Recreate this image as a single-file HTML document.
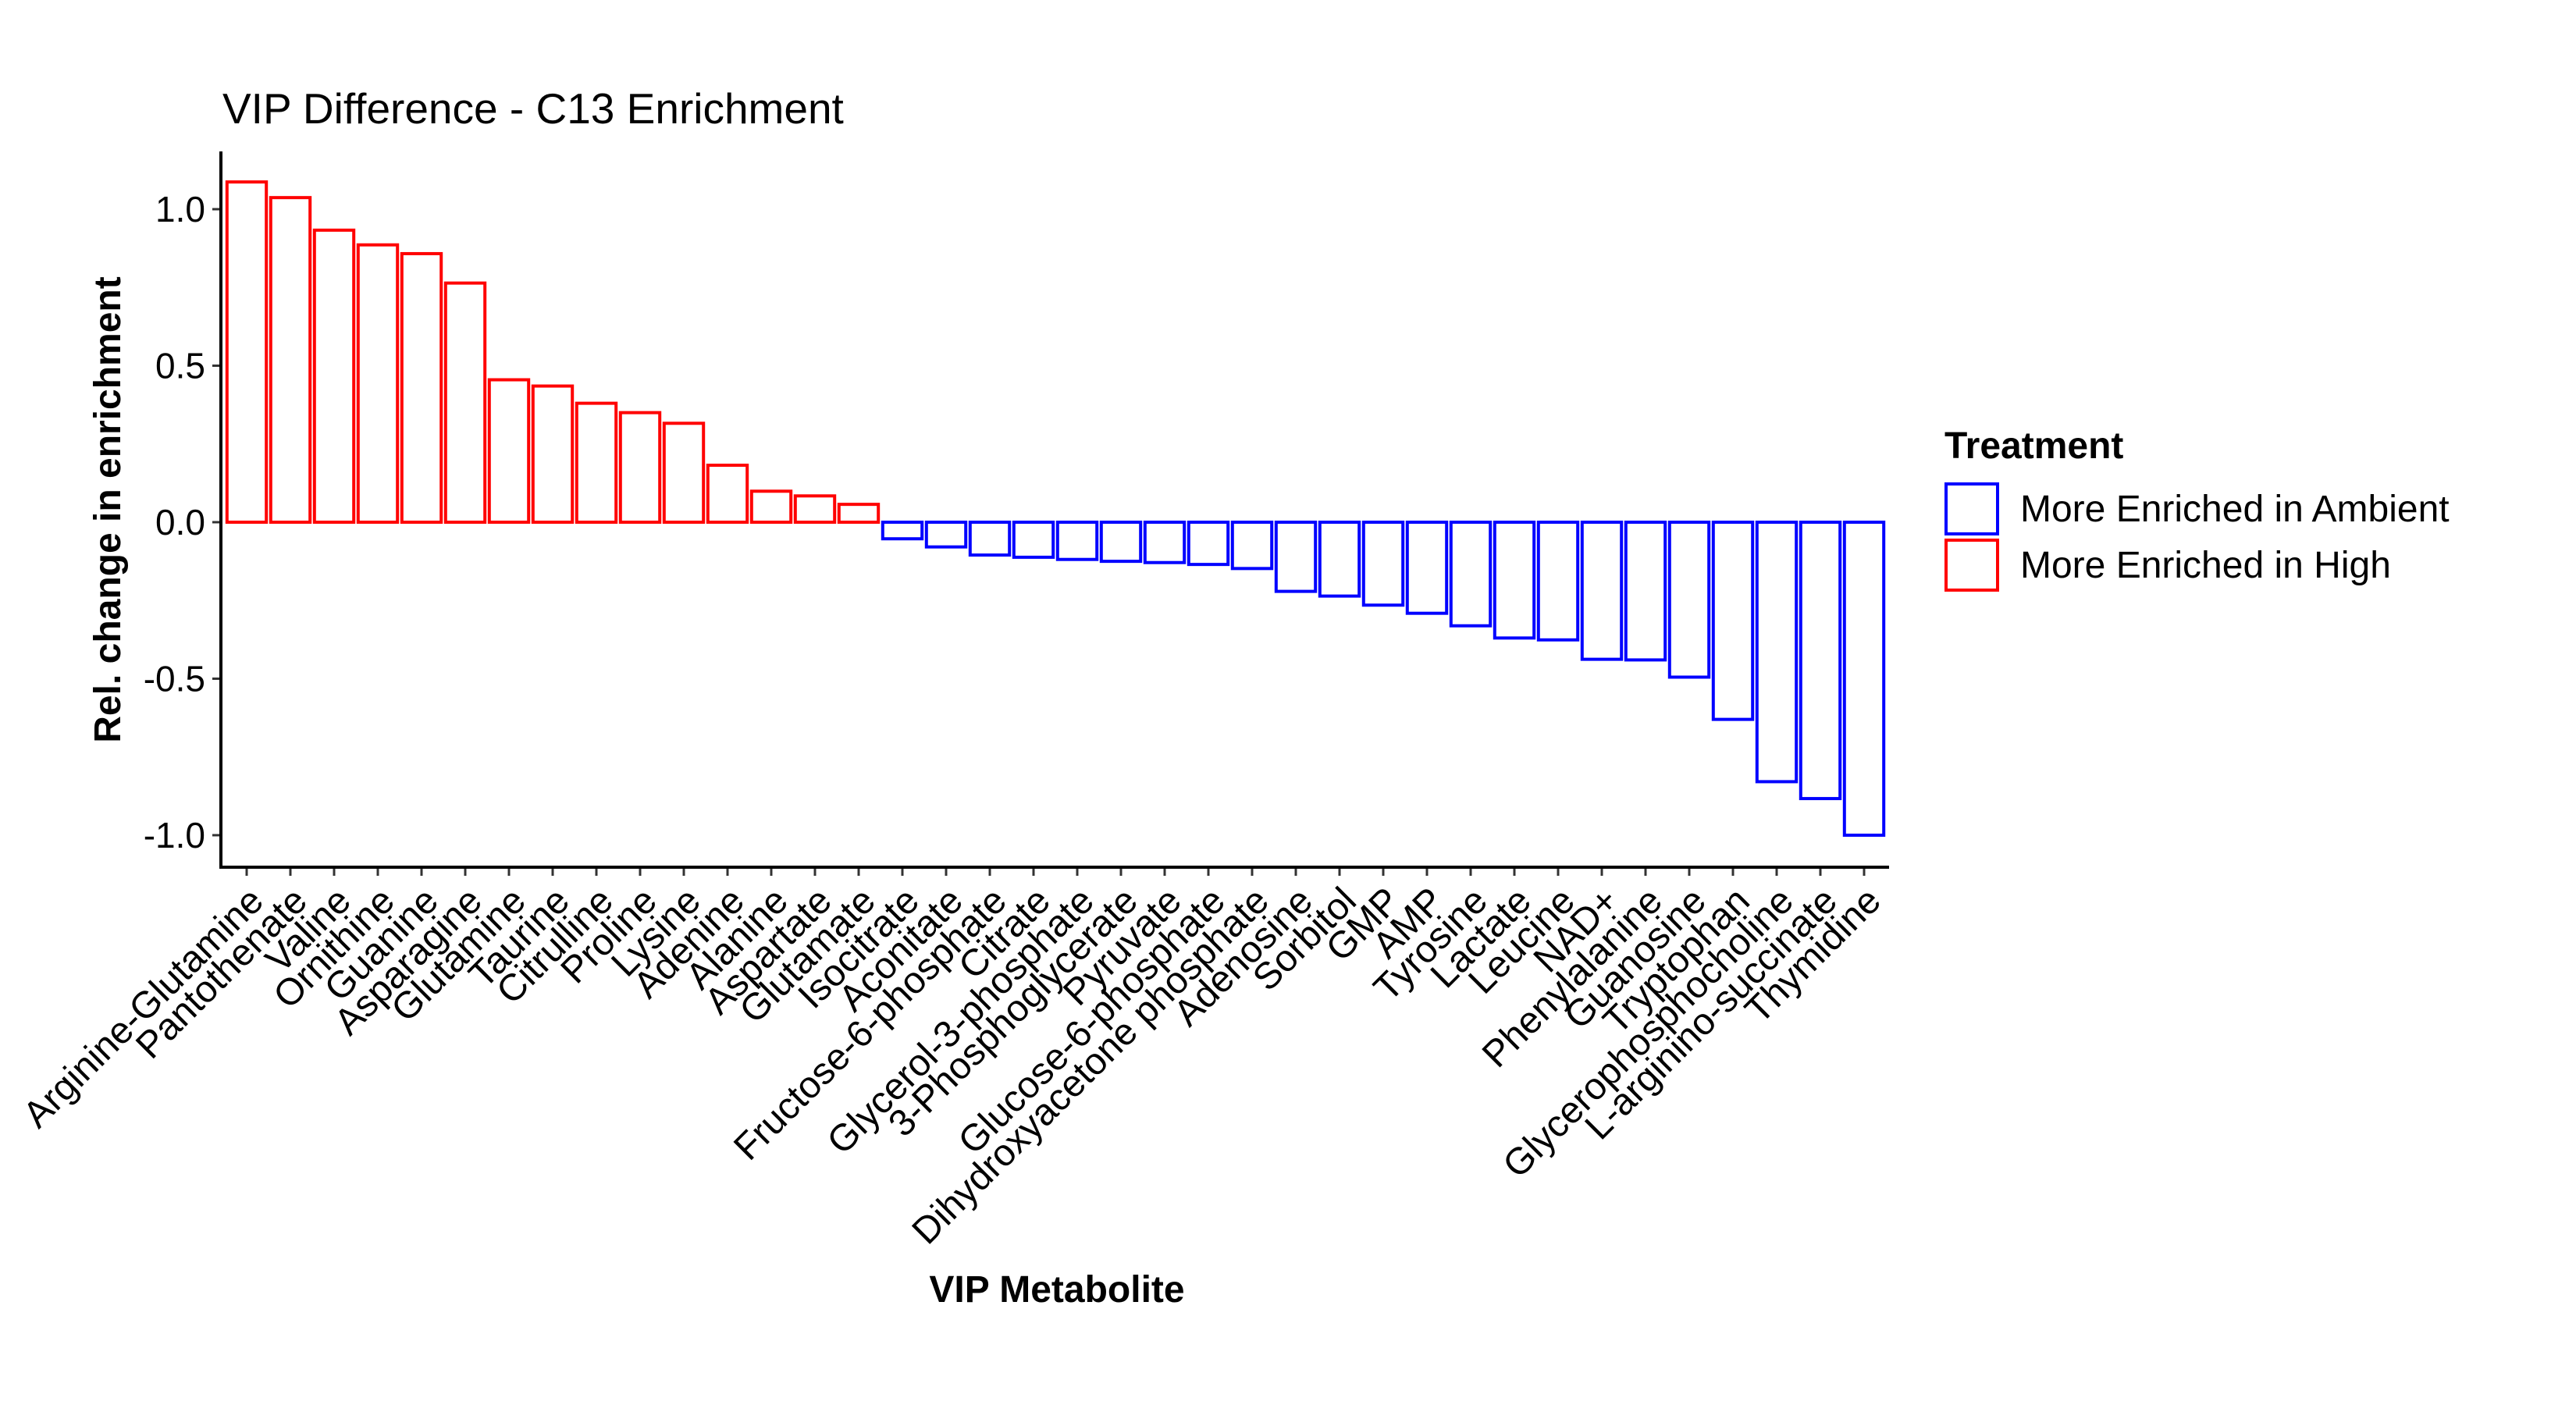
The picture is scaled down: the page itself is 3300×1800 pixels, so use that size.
<!DOCTYPE html>
<html><head><meta charset="utf-8"><style>
html,body{margin:0;padding:0;background:#fff;}
svg{display:block;font-family:"Liberation Sans",Arial,sans-serif;}
</style></head><body>
<svg id="chart" width="3300" height="1800" viewBox="0 0 3300 1800">
<text x="285" y="158" font-size="55" fill="#000">VIP Difference - C13 Enrichment</text>
<g id="plot"></g>
<text transform="translate(154,653) rotate(-90)" text-anchor="middle" font-size="48" font-weight="bold">Rel. change in enrichment</text>
<text x="1354" y="1668" text-anchor="middle" font-size="48" font-weight="bold">VIP Metabolite</text>
<g>
<text x="2491" y="587" font-size="48" font-weight="bold">Treatment</text>
<rect x="2493" y="620" width="66" height="64" fill="none" stroke="#0000ff" stroke-width="4"/>
<text x="2588" y="668" font-size="48">More Enriched in Ambient</text>
<rect x="2493" y="692" width="66" height="64" fill="none" stroke="#ff0000" stroke-width="4"/>
<text x="2588" y="740" font-size="48">More Enriched in High</text>
</g>
</svg>
<script>
const categories = ["Arginine-Glutamine","Pantothenate","Valine","Ornithine","Guanine","Asparagine","Glutamine","Taurine","Citrulline","Proline","Lysine","Adenine","Alanine","Aspartate","Glutamate","Isocitrate","Aconitate","Fructose-6-phosphate","Citrate","Glycerol-3-phosphate","3-Phosphoglycerate","Pyruvate","Glucose-6-phosphate","Dihydroxyacetone phosphate","Adenosine","Sorbitol","GMP","AMP","Tyrosine","Lactate","Leucine","NAD+","Phenylalanine","Guanosine","Tryptophan","Glycerophosphocholine","L-arginino-succinate","Thymidine"];
const values = [1.087,1.037,0.933,0.886,0.858,0.764,0.455,0.435,0.380,0.350,0.316,0.182,0.099,0.084,0.057,-0.053,-0.079,-0.105,-0.112,-0.119,-0.125,-0.129,-0.135,-0.148,-0.221,-0.236,-0.265,-0.291,-0.331,-0.370,-0.376,-0.438,-0.440,-0.495,-0.630,-0.829,-0.883,-1.0];
const yTicks = [-1.0,-0.5,0.0,0.5,1.0];
const yTickLabels = ["-1.0","-0.5","0.0","0.5","1.0"];

const NS="http://www.w3.org/2000/svg";
const plot=document.getElementById('plot');
const axL=283, axB=1111, axT=194, zeroY=669, unit=401;
const step=56, x0=316;
function xPos(i){return x0+i*step;}
function yPos(v){return zeroY - v*unit;}
function mk(tag,attrs){const e=document.createElementNS(NS,tag);for(const k in attrs)e.setAttribute(k,attrs[k]);plot.appendChild(e);return e;}

categories.forEach((c,i)=>{
  const v=values[i];
  const w=step*0.9;
  const y1=yPos(Math.max(v,0)), y2=yPos(Math.min(v,0));
  const r=mk('rect',{x:xPos(i)-w/2,y:y1,width:w,height:Math.max(y2-y1,0.5),fill:'none',stroke:v>=0?'#ff0000':'#0000ff','stroke-width':4});
  
  
  const t=mk('line',{x1:xPos(i),x2:xPos(i),y1:axB,y2:axB+11,stroke:'#333','stroke-width':3});
  
  
  const lx=xPos(i)+24, ly=axB+46;
  const tx=mk('text',{transform:`translate(${lx},${ly}) rotate(-45)`,'text-anchor':'end','font-size':48,fill:'#000'});
  tx.textContent=c;
  
  
});
yTicks.forEach((v,i)=>{
  const l=mk('line',{x1:axL-11,x2:axL,y1:yPos(v),y2:yPos(v),stroke:'#333','stroke-width':3});
  
  
  const t=mk('text',{x:axL-20,y:yPos(v)+16,'text-anchor':'end','font-size':46,fill:'#000'});
  t.textContent=yTickLabels[i];
  
  
});
const ya=mk('line',{x1:axL,x2:axL,y1:axT,y2:axB+2,stroke:'#000','stroke-width':4});


const xa=mk('line',{x1:axL-2,x2:2420,y1:axB,y2:axB,stroke:'#000','stroke-width':4});


</script>
</body></html>
